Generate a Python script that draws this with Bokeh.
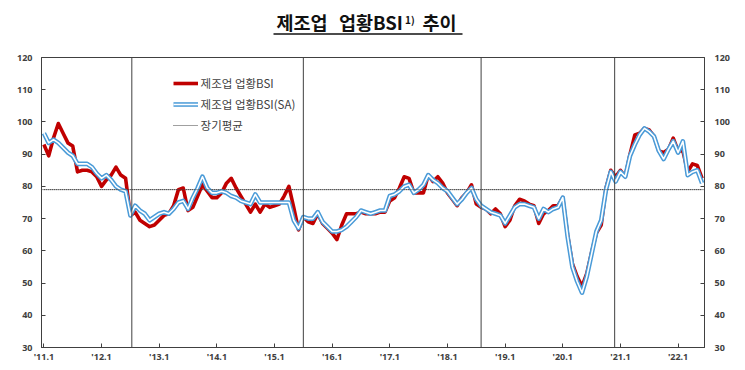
from bokeh.plotting import figure
from bokeh.models import Range1d, LinearAxis, FixedTicker, Span, Legend, LegendItem, ColumnDataSource
from bokeh.layouts import column
from bokeh.embed import file_html
from bokeh.resources import INLINE
from bokeh.core.properties import value

# ---------------- data ----------------
TITLE_PART1 = "제조업"
TITLE_PART2 = "업황BSI"
TITLE_SUP = "1)"
TITLE_END = "추이"
LEGEND_LABELS = ["제조업 업황BSI", "제조업 업황BSI(SA)", "장기평균"]

# monthly values, Jan 2011 .. Jun 2022
BSI = [
    93, 89.5, 95, 99.5, 96.5, 93.5, 92.5, 84.5, 85, 85, 84.5, 83,          # 2011
    80, 82, 83.5, 86, 83.5, 82.5, 71, 72, 69.5, 68.5, 67.5, 68,            # 2012
    69.5, 71, 71.5, 74, 79, 79.5, 72.5, 73.5, 77, 80.5, 78.5, 76.5,        # 2013
    76.5, 78, 81, 82.5, 79.5, 77, 74.5, 72, 74.5, 72, 74.5, 73.5,          # 2014
    74, 74.5, 77, 80, 73.5, 66.5, 70.5, 69, 68.5, 71.5, 68.5, 67,          # 2015
    65.5, 63.5, 68, 71.5, 71.5, 71.5, 72, 71.5, 71.5, 71.5, 72, 72,        # 2016
    75.5, 76.5, 79.5, 83, 82.5, 78, 78, 78, 83.5, 81.5, 83, 81,            # 2017
    78, 76, 74, 76.5, 78, 80.5, 74.5, 73.5, 73, 71.5, 73, 71.5,            # 2018
    67.5, 69.5, 74, 76, 75.5, 74.5, 74, 68.5, 71.5, 72.5, 74, 74,          # 2019
    76.5, 65, 56, 52, 49, 53, 59.5, 65.5, 68, 79.5, 85, 83,                # 2020
    85, 83, 90, 96, 96.5, 98, 97.5, 95.5, 91, 90.5, 91.5, 95,              # 2021
    91, 91, 84.5, 87, 86.5, 82.5,                                          # 2022
]
BSI_SA = [
    96.5, 93.5, 94.5, 93.5, 92, 90.5, 89.5, 87, 87, 87, 86, 84,            # 2011
    82.5, 83.5, 82, 80, 79, 78.5, 71, 74, 72.5, 71.5, 69.5, 70.5,          # 2012
    71.5, 72, 71.5, 73, 75, 75.5, 73, 76.5, 79.5, 83, 79.5, 78,            # 2013
    78, 78.5, 78, 77, 76.5, 75.5, 75, 74.5, 77.5, 75, 75, 75,              # 2014
    75, 75, 75, 75, 69.5, 67, 70.5, 70, 70, 72, 69, 67.5,                  # 2015
    66, 66, 66.5, 67.5, 69, 70.5, 72.5, 72, 71.5, 72, 72.5, 72.5,          # 2016
    77, 77.5, 78.5, 80, 80.5, 78, 79, 80.5, 83.5, 82, 81, 79.5,            # 2017
    78.5, 76.5, 74.5, 76, 78, 79.5, 76, 74, 73, 72, 71.5, 71,              # 2018
    68.5, 71, 73.5, 74.5, 74.5, 74, 73.5, 70, 73, 72, 73, 73.5,            # 2019
    76.5, 64.5, 55, 50.5, 47, 52, 59, 66, 69.5, 79, 84.5, 81.5,            # 2020
    84.5, 83, 89.5, 93, 96, 98, 97, 95.5, 91, 88.5, 91.5, 94,              # 2021
    90.5, 94, 83.5, 84.5, 85, 81,                                          # 2022
]
MONTH_INDEX = list(range(len(BSI)))      # 0 = Jan 2011
LONG_RUN_AVG = 79
BREAK_POINTS = [18.3, 54, 91, 118.8]
YEAR_LABEL_POS = [0, 12, 24, 36, 48, 60, 72, 84, 96, 108, 120, 132]
YEAR_LABELS = ["'11.1", "'12.1", "'13.1", "'14.1", "'15.1", "'16.1",
               "'17.1", "'18.1", "'19.1", "'20.1", "'21.1", "'22.1"]
Y_TICKS = [30, 40, 50, 60, 70, 80, 90, 100, 110, 120]

# ---------------- styles ----------------
RED = "#C00000"
BLUE = "#4A9BD8"
GRAY = "#404040"
TICK_FONT = "Noto Sans"
KR_FONT = "Noto Sans CJK KR"

W = 745
TITLE_H = 40
MAIN_H = 330
BORDER_L = 41
BORDER_R = 41

# ---------------- title figure (data units == page pixels) ----------------
t = figure(width=W, height=TITLE_H, x_range=Range1d(BORDER_L, W - BORDER_R),
           y_range=Range1d(TITLE_H, 0),
           x_axis_type=None, y_axis_type=None,
           toolbar_location=None, output_backend="svg",
           min_border_left=BORDER_L, min_border_right=BORDER_R,
           min_border_top=0, min_border_bottom=0)
t.grid.visible = False
t.outline_line_color = None
title_style = dict(text_font=value(KR_FONT), text_font_style="bold",
                   text_baseline="middle", text_color="#111111", text_align="left")
t.text(x=[276], y=[21.5], text=[TITLE_PART1], text_font_size="18.5px", **title_style)
t.text(x=[338.5], y=[21.5], text=[TITLE_PART2], text_font_size="18.5px", **title_style)
t.text(x=[404.5], y=[18.5], text=[TITLE_SUP], text_font_size="10px", **title_style)
t.text(x=[422], y=[21.5], text=[TITLE_END], text_font_size="18.5px", **title_style)
t.segment(x0=[273], y0=[33.5], x1=[462], y1=[33.5], line_color="#111111", line_width=1.6)

# ---------------- main figure ----------------
p = figure(width=W, height=MAIN_H, x_range=Range1d(-0.5, 137.5), y_range=Range1d(30, 120),
           toolbar_location=None, output_backend="svg",
           min_border_left=BORDER_L, min_border_right=BORDER_R, min_border_top=17, min_border_bottom=23)
p.grid.visible = False
p.outline_line_color = GRAY
p.outline_line_width = 1
p.background_fill_color = "white"

def style_axis(ax):
    ax.axis_line_color = GRAY
    ax.major_tick_in = 4
    ax.major_tick_out = 0
    ax.major_tick_line_color = GRAY
    ax.minor_tick_line_color = None
    ax.major_label_text_font = TICK_FONT
    ax.major_label_text_font_size = "9px"
    ax.major_label_text_font_style = "bold"
    ax.major_label_text_color = GRAY

xa = p.xaxis[0]
xa.ticker = FixedTicker(ticks=YEAR_LABEL_POS)
xa.major_label_overrides = {pos: lab for pos, lab in zip(YEAR_LABEL_POS, YEAR_LABELS)}
style_axis(xa)
xa.major_label_standoff = 2

ya = p.yaxis[0]
ya.ticker = FixedTicker(ticks=Y_TICKS)
style_axis(ya)
ya.major_label_standoff = 9

yr = LinearAxis(ticker=FixedTicker(ticks=Y_TICKS))
style_axis(yr)
yr.major_label_standoff = 10
p.add_layout(yr, "right")

# break lines
for bp in BREAK_POINTS:
    p.add_layout(Span(location=bp, dimension="height", line_color=GRAY, line_width=1))
# long-run average across the whole frame
p.add_layout(Span(location=LONG_RUN_AVG, dimension="width", line_color=GRAY,
                  line_width=1, line_dash="1 1"))

src = ColumnDataSource(dict(m=MONTH_INDEX, bsi=BSI, sa=BSI_SA,
                            avg=[LONG_RUN_AVG] * len(MONTH_INDEX)))
r_avg = p.line("m", "avg", source=src, line_color=GRAY, line_width=1, line_dash="1 1")
r_red = p.line("m", "bsi", source=src, line_color=RED, line_width=3.6, line_join="round")
r_blue = p.line("m", "sa", source=src, line_color=BLUE, line_width=4.6, line_join="round")
r_white = p.line("m", "sa", source=src, line_color="white", line_width=1.6, line_join="round")

legend = Legend(items=[
    LegendItem(label=LEGEND_LABELS[0], renderers=[r_red]),
    LegendItem(label=LEGEND_LABELS[1], renderers=[r_blue, r_white]),
    LegendItem(label=LEGEND_LABELS[2], renderers=[r_avg]),
], location=(131.6, 212))
legend.label_text_font = KR_FONT
legend.label_text_font_size = "11.5px"
legend.label_text_color = GRAY
legend.glyph_width = 25
legend.glyph_height = 20
legend.label_height = 20
legend.spacing = 1
legend.padding = 0
legend.margin = 0
legend.label_standoff = 3
legend.background_fill_alpha = 0
legend.border_line_alpha = 0
p.add_layout(legend)

layout = column(t, p, spacing=0)
open("out.html", "w").write(file_html(layout, INLINE))
